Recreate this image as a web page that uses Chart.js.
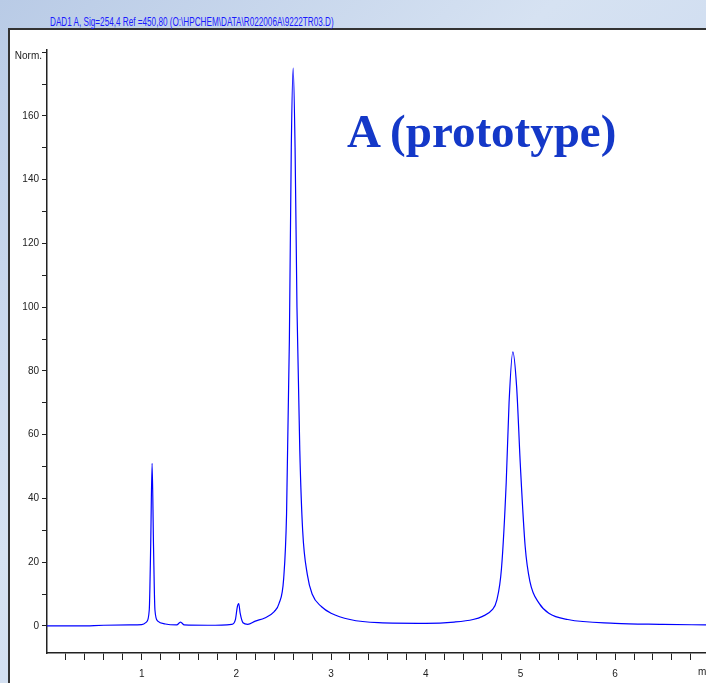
<!DOCTYPE html>
<html>
<head>
<meta charset="utf-8">
<script src="https://cdn.jsdelivr.net/npm/chart.js@4.4.1/dist/chart.umd.min.js"></script>
<style>
  body { margin: 0; width: 706px; height: 683px; overflow: hidden;
         background: linear-gradient(135deg, #b9cbe6, #d6e2f2 40%, #c2d3ec); }
  #panel { position: absolute; left: 8px; top: 28px; width: 698px; height: 655px;
           background: #fff; border-top: 2px solid #333; border-left: 2px solid #333; }
  #head { position: absolute; left: 50px; top: 15px; font: 12px "Liberation Sans", sans-serif;
          color: #1a1aff; transform: scaleX(0.68); transform-origin: 0 0; white-space: nowrap; }
  #label { position: absolute; left: 347px; top: 104px; font: bold 47px "Liberation Serif", serif; color: #1438c8; white-space: nowrap; }
  canvas { position: absolute; left: 0; top: 0; }
</style>
</head>
<body>
<div id="panel"></div>
<div id="head">DAD1 A, Sig=254,4 Ref =450,80 (O:\HPCHEM\DATA\R022006A\9222TR03.D)</div>
<canvas id="c" width="706" height="683"></canvas>
<div id="label">A (prototype)</div>
<script>
const times = [0, 0.35, 0.6, 0.9, 1.0, 1.05, 1.08, 1.095, 1.11, 1.125, 1.14, 1.17, 1.25, 1.37, 1.41, 1.45, 1.7, 1.95, 1.99, 2.01, 2.025, 2.04, 2.07, 2.12, 2.2, 2.3, 2.4, 2.45, 2.5, 2.53, 2.56, 2.58, 2.6, 2.62, 2.64, 2.67, 2.7, 2.75, 2.8, 2.9, 3.0, 3.2, 3.5, 4.0, 4.3, 4.5, 4.6, 4.7, 4.75, 4.8, 4.85, 4.88, 4.92, 4.96, 5.0, 5.05, 5.1, 5.2, 5.3, 5.5, 6.0, 6.5, 6.96];
const signal = [0, 0, 0.2, 0.3, 0.4, 1.2, 5, 25, 51, 25, 5, 1.5, 0.6, 0.3, 1.2, 0.3, 0.2, 0.5, 2, 6, 7, 4, 1, 0.5, 1.5, 2.5, 4.5, 7, 15, 35, 90, 150, 175, 150, 100, 55, 30, 16, 10, 6, 4, 2, 1, 0.8, 1.2, 2, 3, 5, 8, 18, 45, 70, 86, 75, 50, 25, 14, 7, 4, 2, 0.8, 0.5, 0.3];
const yTicks = [0, 20, 40, 60, 80, 100, 120, 140, 160];
const xTicks = [1, 2, 3, 4, 5, 6];

const font = { family: '"Liberation Sans", sans-serif', size: 10 };
const extras = {
  id: 'extras',
  afterDraw(chart) {
    const ctx = chart.ctx;
    ctx.save();
    ctx.fillStyle = '#222';
    ctx.font = '10px ' + font.family;
    ctx.textAlign = 'right';
    ctx.textBaseline = 'middle';
    ctx.fillText('Norm.', chart.chartArea.left - 5, 56);
    ctx.textAlign = 'left';
    ctx.textBaseline = 'top';
    ctx.fillText('min', 698, chart.chartArea.bottom + 14);
    ctx.restore();
  }
};

new Chart(document.getElementById('c'), {
  type: 'line',
  data: {
    datasets: [{
      data: times.map((t, i) => ({ x: t, y: signal[i] })),
      borderColor: '#0000ff',
      borderWidth: 1.2,
      pointRadius: 0,
      cubicInterpolationMode: 'monotone'
    }]
  },
  options: {
    responsive: false,
    animation: false,
    layout: { padding: { left: 8, top: 50, right: 0, bottom: 0 } },
    plugins: { legend: { display: false }, tooltip: { enabled: false } },
    scales: {
      x: {
        type: 'linear', min: 0, max: 6.96,
        afterFit: s => { s.height = 30; },
        afterBuildTicks: s => { const t = []; for (let v = 0.2; v <= 6.9; v += 0.2) t.push({ value: Math.round(v * 10) / 10 }); s.ticks = t; },
        border: { color: '#222', width: 1.5 },
        grid: { drawOnChartArea: false, tickLength: 7, color: '#222' },
        ticks: { color: '#222', font, maxRotation: 0, autoSkip: false, padding: 8,
          callback: v => xTicks.includes(v) ? String(v) : '' }
      },
      y: {
        min: -8.5, max: 180.7,
        afterFit: s => { s.width = 39; },
        afterBuildTicks: s => { const t = []; for (let v = -10; v <= 180; v += 10) if (v >= -8.5) t.push({ value: v }); s.ticks = t; },
        border: { color: '#222', width: 1.5 },
        grid: { drawOnChartArea: false, tickLength: 5, color: '#222' },
        ticks: { color: '#222', font, autoSkip: false, padding: 3,
          callback: v => yTicks.includes(v) ? String(v) : '' }
      }
    }
  },
  plugins: [extras]
});
</script>
</body>
</html>
